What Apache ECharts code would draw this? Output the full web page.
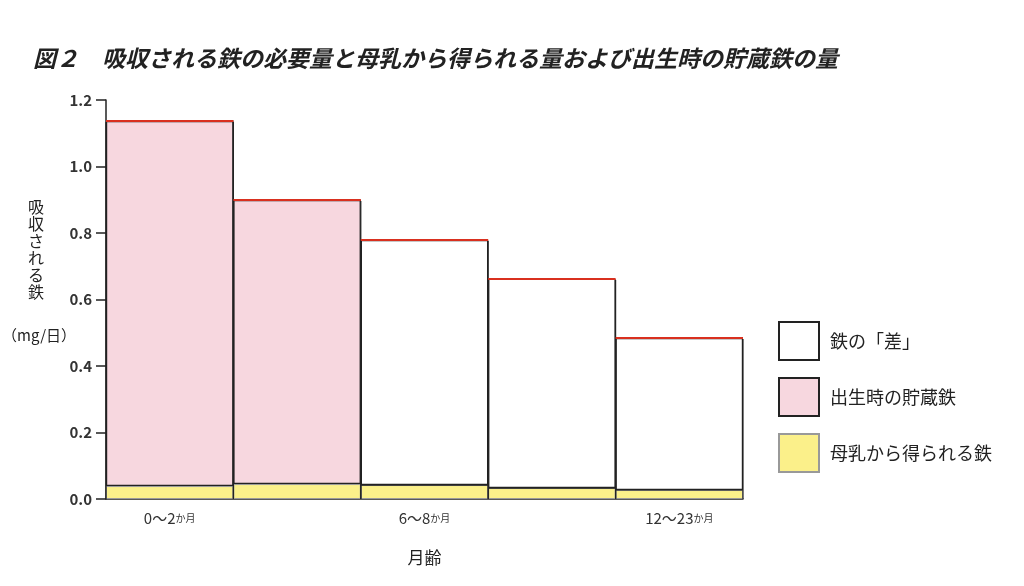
<!DOCTYPE html>
<html><head><meta charset="utf-8">
<script src="https://cdn.jsdelivr.net/npm/echarts@6/dist/echarts.min.js"></script>
<style>html,body{margin:0;background:#fff}#c{width:1024px;height:586px}</style>
</head><body><div id="c"></div>
<script>
var months = ["0〜2", "3〜5", "6〜8", "9〜11", "12〜23"];
var totalNeed = [1.137, 0.899, 0.779, 0.662, 0.484];
var breastMilk = [0.039, 0.045, 0.042, 0.033, 0.027];
var storedIron = [1.098, 0.854, 0, 0, 0];
var gapIron = [0, 0, 0.737, 0.629, 0.457];

var myChart = echarts.init(document.getElementById("c"));
var font = "'Noto Sans CJK JP', sans-serif";
var barStyle = function (c) {
    return { color: c, borderColor: "#222", borderWidth: 1.2 };
};
var option = {
    animation: false,
    textStyle: { fontFamily: font },
    title: {
        text: "図２　吸収される鉄の必要量と母乳から得られる量および出生時の貯蔵鉄の量",
        left: 28, top: 42,
        textStyle: { fontSize: 23, fontStyle: "italic", fontWeight: "bold", color: "#222", fontFamily: font }
    },
    grid: { left: 106, right: 281, top: 100, bottom: 87 },
    legend: {
        orient: "vertical", left: 773, top: 316, itemWidth: 40, itemHeight: 38, itemGap: 16,
        icon: "rect",
        data: ["鉄の「差」", "出生時の貯蔵鉄", "母乳から得られる鉄"],
        textStyle: { fontSize: 18, color: "#222", padding: [0, 0, 0, 6] }
    },
    xAxis: {
        type: "category", data: months,
        axisLine: { lineStyle: { color: "#222", width: 1.5 } },
        axisTick: { show: false },
        axisLabel: {
            formatter: function (v) { return v + "{s|か月}"; },
            fontSize: 15, color: "#333", margin: 12,
            rich: { s: { fontSize: 10, color: "#333" } }
        },
        name: "月齢", nameLocation: "middle", nameGap: 50,
        nameTextStyle: { fontSize: 17, color: "#222" }
    },
    yAxis: {
        type: "value", min: 0, max: 1.2, interval: 0.2,
        splitLine: { show: false },
        axisLine: { show: true, lineStyle: { color: "#222", width: 1.5 } },
        axisTick: { show: true, length: 10, lineStyle: { color: "#222", width: 1.5 } },
        axisLabel: { formatter: function (v) { return v.toFixed(1); }, fontSize: 15, color: "#333", fontWeight: "bold", margin: 14 }
    },
    graphic: [
        { type: "text", left: 28, top: 198, style: { text: "吸\n収\nさ\nれ\nる\n鉄", fontSize: 16, lineHeight: 17, fill: "#222", fontFamily: font } },
        { type: "text", left: 2, top: 328, style: { text: "（mg/日）", fontSize: 15, fill: "#222", fontFamily: font } }
    ],
    series: [
        { name: "母乳から得られる鉄", type: "bar", stack: "a", barCategoryGap: 0, data: breastMilk,
          itemStyle: { color: "#fbf08a", borderColor: "#999", borderWidth: 1 } },
        { name: "出生時の貯蔵鉄", type: "bar", stack: "a", data: storedIron, itemStyle: barStyle("#f7d7df") },
        { name: "鉄の「差」", type: "bar", stack: "a", data: gapIron, itemStyle: barStyle("#ffffff") },
        { name: "必要量", type: "custom", data: totalNeed.map(function (v, i) { return [i, v]; }),
          encode: { x: 0, y: 1 }, z: 10,
          renderItem: function (params, api) {
              var p = api.coord([api.value(0), api.value(1)]);
              var w = api.size([1, 0])[0];
              var b = api.coord([api.value(0), 0]);
              return { type: "group", children: [
                  { type: "line", shape: { x1: p[0] - w / 2, y1: p[1], x2: p[0] + w / 2, y2: p[1] }, style: { stroke: "#d9301f", lineWidth: 2 } },
                  { type: "line", shape: { x1: p[0] - w / 2, y1: p[1] + 1, x2: p[0] - w / 2, y2: b[1] }, style: { stroke: "#222", lineWidth: 1.2 } },
                  { type: "line", shape: { x1: p[0] + w / 2, y1: p[1] + 1, x2: p[0] + w / 2, y2: b[1] }, style: { stroke: "#222", lineWidth: 1.2 } }
              ] };
          } }
    ]
};
option && myChart.setOption(option);
</script></body></html>
